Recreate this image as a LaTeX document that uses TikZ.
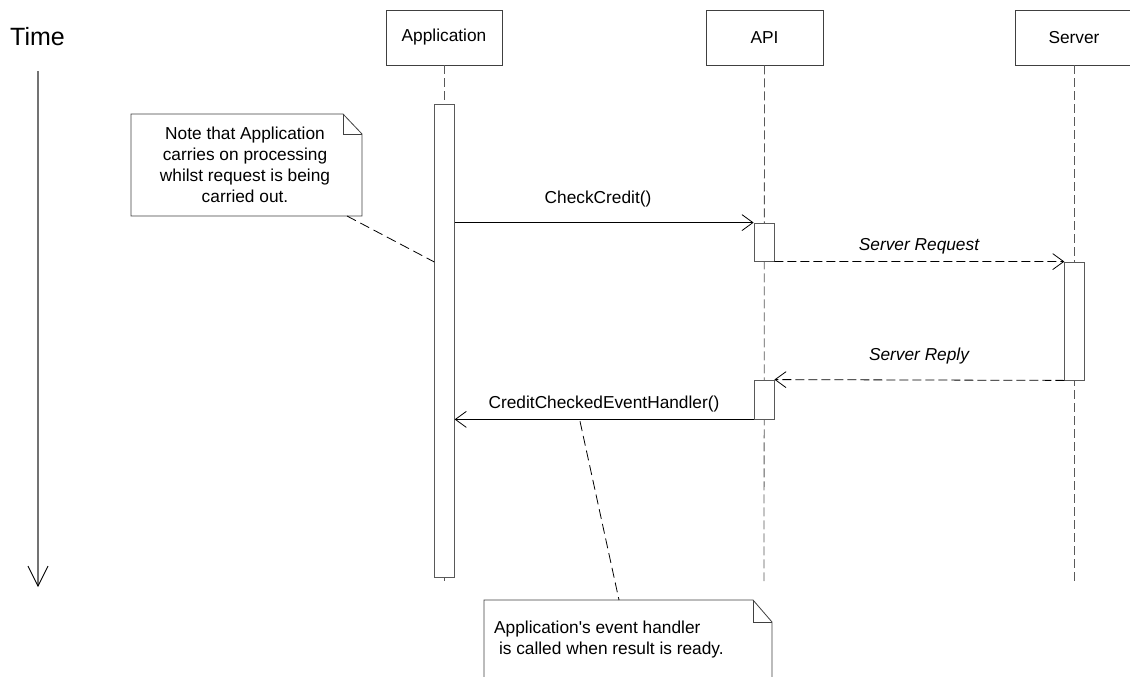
\documentclass[tikz,border=0pt]{standalone}
\usepackage{fontspec}
\setmainfont{Liberation Sans}
\usetikzlibrary{arrows.meta}
\begin{document}
\begin{tikzpicture}[x=1pt,y=-1pt,
  every node/.style={font=\fontsize{17.3}{21}\selectfont},
  lifebox/.style={draw=black!75,line width=0.8pt,minimum width=116pt,minimum height=55pt,inner sep=0pt},
  actbar/.style={draw=black!65,fill=white,line width=0.8pt,minimum width=19.5pt,inner sep=0pt},
  lifeline/.style={draw=black!65,line width=0.8pt,dash pattern=on 9pt off 4pt},
  msg/.style={draw=black,line width=0.8pt,-{Straight Barb[length=11pt,width=16pt,line width=0.8pt]}},
  reply/.style={msg,dash pattern=on 9pt off 4pt},
  notelink/.style={draw=black,line width=0.8pt,dash pattern=on 10pt off 5pt},
  lbl/.style={inner sep=0pt}
]
\useasboundingbox (0,0) rectangle (1130,677);
% Time axis
\node[lbl,anchor=west,font=\fontsize{25}{28}\selectfont] (time) at (10,37) {Time};
\coordinate (ttop) at (38,71);
\coordinate (tbot) at (38,587);
\draw[draw=black!55,line width=1.5pt,-{Straight Barb[length=20pt,width=20pt,line width=0.8pt,color=black]}] (ttop) -- (tbot);

% lifeline heads
\node[lifebox] (app) at (444,37.5) {Application};
\node[lifebox,minimum width=117pt] (api) at (764.5,37.5) {API};
\node[lifebox,minimum width=118pt] (srv) at (1074,37.5) {Server};

% activation bars (positions)
\coordinate (appbarc) at (444.5,340.5);
\coordinate (apibar1c) at (764,242);
\coordinate (srvbarc) at (1074.5,321);
\coordinate (apibar2c) at (764,399.5);
\coordinate (append) at (444.5,581);
\coordinate (apiend) at (764,581);
\coordinate (srvend) at (1074,581);

% lifelines
\draw[lifeline] (app.south) -- (app.south |- 0,104);
\draw[lifeline] (appbarc |- 0,577) -- (append);
\draw[lifeline] (api.south) -- (apiend);
\draw[lifeline] (srv.south) -- (srvend);

\node[actbar,minimum height=473pt] (appbar) at (appbarc) {};
\node[actbar,minimum width=20pt,minimum height=38pt] (apibar1) at (apibar1c) {};
\node[actbar,minimum height=118pt] (srvbar) at (srvbarc) {};
\node[actbar,minimum width=20pt,minimum height=39pt] (apibar2) at (apibar2c) {};

% messages
\draw[msg] (appbar.east |- apibar1.north) -- (apibar1.north west);
\node[lbl] (m1) at (598,199) {CheckCredit()};
\draw[reply] (apibar1.south east) -- (srvbar.north west);
\node[lbl] (m2) at (919,246) {\itshape Server Request};
\draw[reply] (srvbar.south west) -- (apibar2.north east);
\node[lbl] (m3) at (919,356) {\itshape Server Reply};
\draw[msg] (apibar2.south west) -- (appbar.east |- apibar2.south);
\node[lbl] (m4) at (604,404) {CreditCheckedEventHandler()};

% note 1
\draw[draw=black!75,fill=white,line width=0.8pt] (131,114) -- (343,114) -- (362,134) -- (362,216) -- (131,216) -- cycle;
\draw[draw=black!75,line width=0.8pt] (343,114) -- (343,134) -- (362,134);
\node[lbl,align=center,font=\fontsize{17.3}{20.8}\selectfont] (note1) at (245,165) {Note that Application\\carries on processing\\whilst request is being\\carried out.};
\coordinate (n1a) at (347,216);
\draw[notelink] (n1a) -- (appbar.west |- 0,262);

% note 2
\draw[draw=black!75,fill=white,line width=0.8pt] (484,600) -- (753,600) -- (772,622) -- (772,700) -- (484,700) -- cycle;
\draw[draw=black!75,line width=0.8pt] (753,600) -- (753,622) -- (772,622);
\node[lbl,align=left,anchor=north west,font=\fontsize{17.3}{20.8}\selectfont] (note2) at (494,621) {Application\textquotesingle s event handler\\ \ is called when result is ready.};
\coordinate (n2a) at (619,600);
\draw[notelink] (m4.south -| 580,0) ++(0,9) -- (n2a);
\end{tikzpicture}
\end{document}
